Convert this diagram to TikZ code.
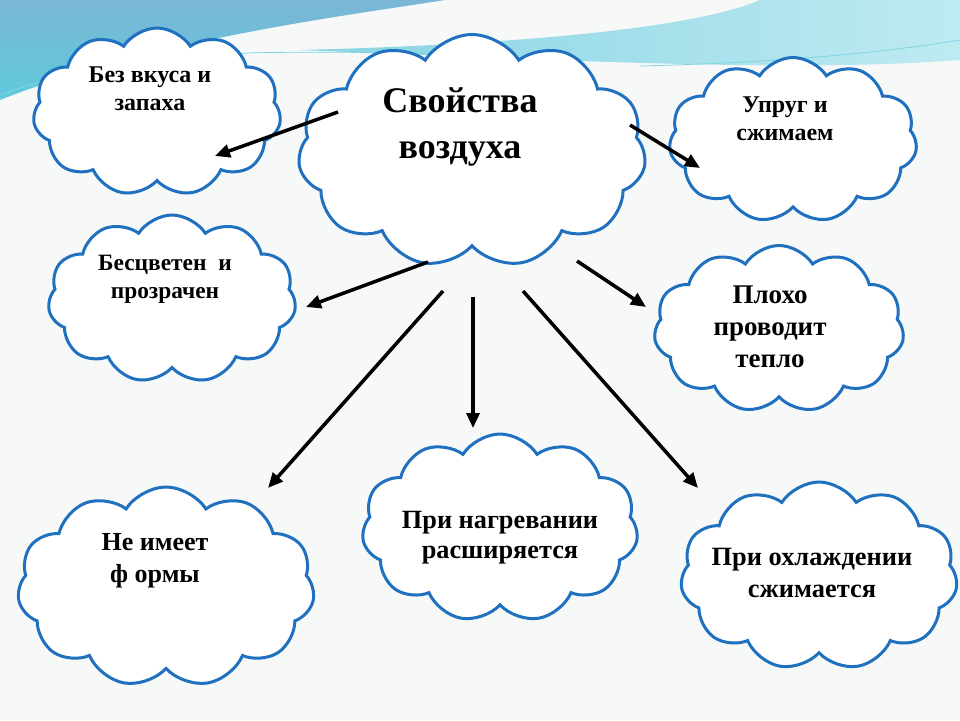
\documentclass[tikz,border=0pt]{standalone}
\usepackage{fontspec}
\setmainfont{Liberation Serif}
\usetikzlibrary{shapes.symbols,arrows.meta}
\definecolor{bgcol}{HTML}{F7F8F8}
\definecolor{cloudblue}{HTML}{1F70BF}
\definecolor{bandA}{HTML}{7AB6D5}
\definecolor{bandB}{HTML}{5FCADC}
\definecolor{bandC}{HTML}{86D4E3}
\definecolor{bandD}{HTML}{BFEAF2}
\tikzset{
  cloudbox/.style={cloud, draw=cloudblue, line width=3pt, fill=white,
    cloud puffs=11, cloud puff arc=115, inner sep=0pt, outer sep=0pt},
  lbl/.style={font=\bfseries, align=center, anchor=base, inner sep=0pt},
  arr/.style={line width=3.5pt, -{Triangle[length=15pt,width=13pt]}}
}
\begin{document}
\begin{tikzpicture}[x=1pt,y=-1pt]
\useasboundingbox (0,0) rectangle (960,720);
\fill[bgcol] (0,0) rectangle (960,720);
% top decoration
\shade[top color=bandA, bottom color=bandB]
  (0,0) -- (445,0) .. controls (350,15) and (150,40) .. (0,100) -- cycle;
\shade[left color=bandC, right color=bandD]
  (760,0) -- (960,0) -- (960,60) .. controls (800,72) and (600,62) .. (300,50)
  .. controls (500,45) and (690,30) .. (760,0) -- cycle;
\draw[bandB!80!white, line width=0.8pt] (0,95) .. controls (150,40) and (300,55) .. (430,52);
\draw[bandB!80!white, line width=0.8pt] (640,66) .. controls (800,62) and (900,50) .. (960,40);

% clouds
\node[cloudbox, minimum width=248pt, minimum height=168pt, aspect=1.48] (c1) at (157,112) {};
\node[cloudbox, minimum width=348pt, minimum height=233pt, aspect=1.49] (main) at (472,151) {};
\node[cloudbox, minimum width=248pt, minimum height=165pt, aspect=1.5] (c3) at (793,140) {};
\node[cloudbox, minimum width=248pt, minimum height=168pt, aspect=1.48] (c4) at (172,299) {};
\node[cloudbox, minimum width=250pt, minimum height=167pt, aspect=1.5] (c5) at (779,329) {};
\node[cloudbox, minimum width=297pt, minimum height=200pt, aspect=1.48] (c6) at (166,587) {};
\node[cloudbox, minimum width=276pt, minimum height=188pt, aspect=1.47] (c7) at (500,528) {};
\node[cloudbox, minimum width=277pt, minimum height=188pt, aspect=1.47] (c8) at (819,576) {};

% texts (anchor base = baseline of last line)
\node[lbl, font=\bfseries\fontsize{24}{28}\selectfont] (t1) at (150,110) {Без вкуса и\\запаха};
\node[lbl, font=\bfseries\fontsize{36}{46}\selectfont] (tmain) at (460,158) {Свойства\\воздуха};
\node[lbl, font=\bfseries\fontsize{24}{28}\selectfont] (t3) at (785,140) {Упруг и\\сжимаем};
\node[lbl, font=\bfseries\fontsize{23.4}{28}\selectfont] (t4) at (165,298) {Бесцветен\ \ и\\прозрачен};
\node[lbl, font=\bfseries\fontsize{27}{32}\selectfont] (t5) at (770,367) {Плохо\\проводит\\тепло};
\node[lbl, font=\bfseries\fontsize{26}{32}\selectfont] (t6) at (155,582) {Не имеет\\ф ормы};
\node[lbl, font=\bfseries\fontsize{26.3}{30}\selectfont] (t7) at (500,558) {При нагревании\\расширяется};
\node[lbl, font=\bfseries\fontsize{26.4}{32}\selectfont] (t8) at (812,597) {При охлаждении\\сжимается};

% arrow ends
\coordinate (a1s) at (338,112); \coordinate (a1e) at (215,156);
\coordinate (a2s) at (630,125); \coordinate (a2e) at (700,168);
\coordinate (a3s) at (428,262); \coordinate (a3e) at (306,307);
\coordinate (a4s) at (577,261); \coordinate (a4e) at (646,307);
\coordinate (a5s) at (443,291); \coordinate (a5e) at (268,488);
\coordinate (a6s) at (473,297); \coordinate (a6e) at (473,428);
\coordinate (a7s) at (523,291); \coordinate (a7e) at (698,488);
\draw[arr] (a1s) -- (a1e);
\draw[arr] (a2s) -- (a2e);
\draw[arr] (a3s) -- (a3e);
\draw[arr] (a4s) -- (a4e);
\draw[arr] (a5s) -- (a5e);
\draw[arr] (a6s) -- (a6e);
\draw[arr] (a7s) -- (a7e);
\end{tikzpicture}
\end{document}
